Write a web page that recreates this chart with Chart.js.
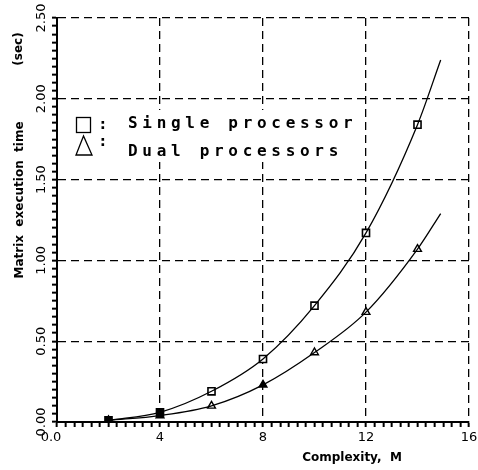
<!DOCTYPE html>
<html>
<head>
<meta charset="utf-8">
<script src="https://cdn.jsdelivr.net/npm/chart.js@4"></script>
<style>
  html, body { margin: 0; padding: 0; background: #fff; }
  canvas { display: block; }
</style>
</head>
<body>
<canvas id="plot" width="478" height="470"></canvas>
<script>
// Data
const complexity = [2, 4, 6, 8, 10, 12, 14];
const singleTime = [0.01, 0.06, 0.19, 0.39, 0.72, 1.17, 1.84];
const dualTime = [0.01, 0.04, 0.10, 0.23, 0.43, 0.68, 1.07];
// where the drawn fit curves stop on the right
const curveEndM = 14.9;
const singleEnd = 2.24;
const dualEnd = 1.29;

const xTicks = [0, 4, 8, 12, 16];
const xTickLabels = ['0.0', '4', '8', '12', '16'];
const yTicks = [0, 0.5, 1, 1.5, 2, 2.5];
const yTickLabels = ['0.00', '0.50', '1.00', '1.50', '2.00', '2.50'];

const legendLabels = ['Single processor', 'Dual processors'];

function pts(xs, ys) {
    return xs.map((x, i) => ({ x: x, y: ys[i] }));
}

const singlePts = pts(complexity, singleTime);
const dualPts = pts(complexity, dualTime);
const singleCurve = singlePts.concat([{ x: curveEndM, y: singleEnd }]);
const dualCurve = dualPts.concat([{ x: curveEndM, y: dualEnd }]);

// minor ticks everywhere, dashed grid only on the majors
function onMajor(v, step) {
    const r = v / step;
    return Math.abs(r - Math.round(r)) < 1e-6;
}

// extra drawing: tick labels, titles, legend
const decorations = {
    id: 'decorations',
    afterDraw(chart) {
        const c = chart.ctx;
        const xs = chart.scales.x;
        const ys = chart.scales.y;
        c.save();
        c.fillStyle = '#000';
        c.strokeStyle = '#000';

        // y tick labels, rotated
        c.font = '13px "DejaVu Sans"';
        c.textAlign = 'center';
        c.textBaseline = 'middle';
        yTicks.forEach((v, i) => {
            const py = ys.getPixelForValue(v);
            c.save();
            c.translate(42, py);
            c.rotate(-Math.PI / 2);
            c.fillText(yTickLabels[i], 0, 0);
            c.restore();
        });

        // x tick labels
        xTicks.forEach((v, i) => {
            const px = xs.getPixelForValue(v);
            c.fillText(xTickLabels[i], i === 0 ? px - 6 : px, 438);
        });

        // axis titles
        c.font = 'bold 12px "DejaVu Sans"';
        c.fillText('Complexity,  M', 352, 458);
        c.save();
        c.translate(20, 200);
        c.rotate(-Math.PI / 2);
        c.fillText('Matrix  execution  time', 0, 0);
        c.restore();
        c.save();
        c.translate(19, 49);
        c.rotate(-Math.PI / 2);
        c.fillText('(sec)', 0, 0);
        c.restore();

        // legend
        c.fillStyle = '#fff';
        c.fillRect(70, 110, 290, 52);
        c.fillStyle = '#000';
        c.lineWidth = 1.3;
        c.strokeRect(76.5, 117.5, 14, 15);
        c.beginPath();
        c.moveTo(83.5, 136);
        c.lineTo(76, 155);
        c.lineTo(92, 155);
        c.closePath();
        c.stroke();
        c.font = 'bold 16px "DejaVu Sans Mono"';
        c.textAlign = 'left';
        c.fillText(':', 98, 125);
        c.fillText(':', 98, 142);
        if ('letterSpacing' in c) c.letterSpacing = '4.7px';
        c.fillText(legendLabels[0], 128, 124);
        c.fillText(legendLabels[1], 128, 152);
        c.restore();
    }
};

new Chart(document.getElementById('plot').getContext('2d'), {
    type: 'line',
    data: {
        datasets: [
            {
                data: singleCurve,
                borderColor: '#000',
                borderWidth: 1.3,
                pointRadius: 0,
                cubicInterpolationMode: 'monotone',
                fill: false
            },
            {
                data: dualCurve,
                borderColor: '#000',
                borderWidth: 1.3,
                pointRadius: 0,
                cubicInterpolationMode: 'monotone',
                fill: false
            },
            {
                data: singlePts,
                showLine: false,
                pointStyle: 'rect',
                pointRadius: 5,
                pointBorderWidth: 1.6,
                pointBorderColor: '#000',
                pointBackgroundColor: ['#000', '#000', '#fff', '#fff', '#fff', '#fff', '#fff']
            },
            {
                data: dualPts,
                showLine: false,
                pointStyle: 'triangle',
                pointRadius: 4.5,
                pointBorderWidth: 1.4,
                pointBorderColor: '#000',
                pointBackgroundColor: ['#000', '#000', '#fff', '#000', '#fff', '#fff', '#fff']
            }
        ]
    },
    options: {
        responsive: false,
        animation: false,
        layout: { padding: { top: 18, right: 9, left: 0, bottom: 0 } },
        plugins: {
            legend: { display: false },
            tooltip: { enabled: false }
        },
        scales: {
            x: {
                type: 'linear',
                min: 0,
                max: 16,
                ticks: { display: false, stepSize: 1 / 3 },
                grid: {
                    color: (ctx) => onMajor(ctx.tick.value, 4) ? '#000' : 'rgba(0,0,0,0)',
                    lineWidth: 1.3,
                    drawTicks: true,
                    tickLength: 5,
                    tickColor: '#000',
                    tickWidth: 2
                },
                border: { color: '#000', width: 2, dash: [8, 5] },
                afterFit: (s) => { s.height = 48; }
            },
            y: {
                type: 'linear',
                min: 0,
                max: 2.5,
                ticks: { display: false, stepSize: 0.05 },
                grid: {
                    color: (ctx) => onMajor(ctx.tick.value, 0.5) ? '#000' : 'rgba(0,0,0,0)',
                    lineWidth: 1.3,
                    drawTicks: true,
                    tickLength: 5,
                    tickColor: '#000',
                    tickWidth: 2
                },
                border: { color: '#000', width: 2, dash: [8, 5] },
                afterFit: (s) => { s.width = 57; }
            }
        }
    },
    plugins: [decorations]
});
</script>
</body>
</html>
